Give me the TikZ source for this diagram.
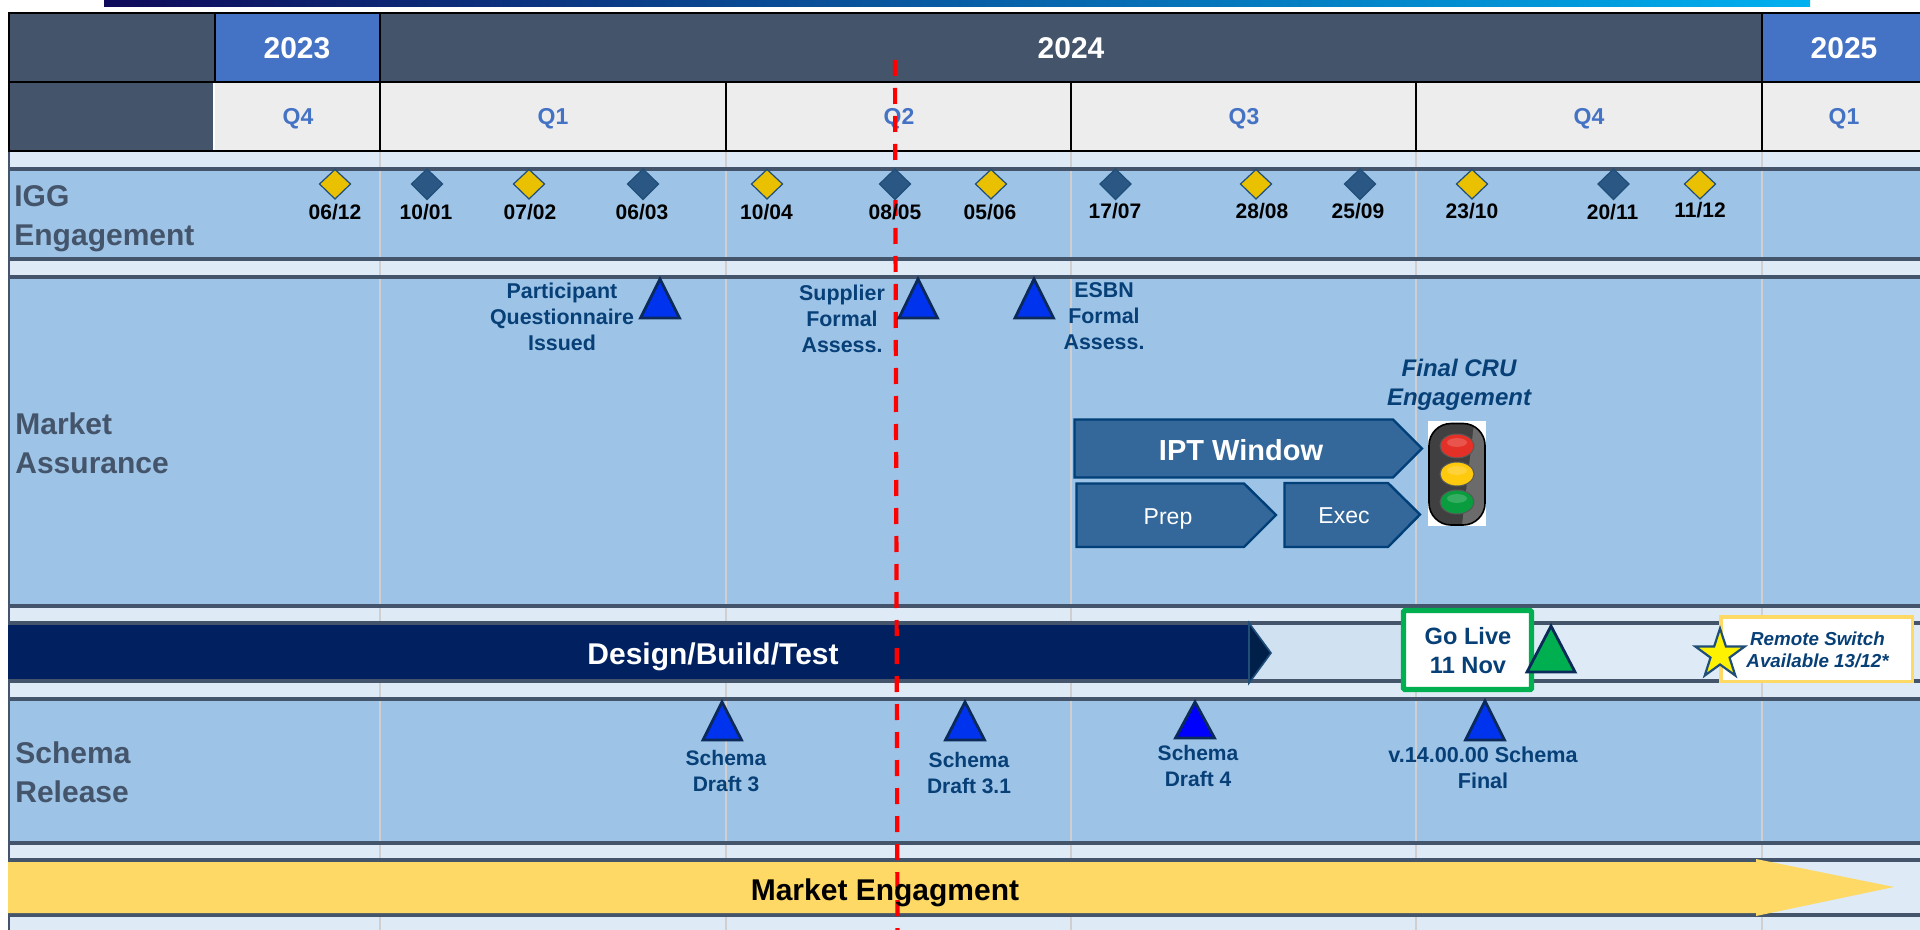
\documentclass[tikz,border=0pt]{standalone}
\usepackage{fontspec}
\setmainfont{Liberation Sans}
\usetikzlibrary{shapes.geometric}
\definecolor{slate}{HTML}{44546A}
\definecolor{yearblue}{HTML}{4472C4}
\definecolor{cellgrey}{HTML}{EDEDED}
\definecolor{band}{HTML}{9DC3E6}
\definecolor{pale}{HTML}{DEEBF7}
\definecolor{paler}{HTML}{D0E1F2}
\definecolor{rule}{HTML}{D0CECE}
\definecolor{navyink}{HTML}{073F77}
\definecolor{triedge}{HTML}{0B2A5A}
\definecolor{triblue}{HTML}{0033EE}
\definecolor{chevfill}{HTML}{34679A}
\definecolor{chevedge}{HTML}{003F77}
\definecolor{dyellow}{HTML}{EAC100}
\definecolor{dblue}{HTML}{2A5783}
\definecolor{dedge}{HTML}{1F4E79}
\definecolor{gold}{HTML}{FFD966}
\definecolor{navybar}{HTML}{002060}
\definecolor{arrowdark}{HTML}{00204A}
\definecolor{golive}{HTML}{00B050}
\definecolor{lampred}{HTML}{E53027}
\definecolor{lampyellow}{HTML}{FFC90E}
\definecolor{lampgreen}{HTML}{0A9D3F}
\definecolor{gradA}{RGB}{15,10,90}
\definecolor{gradB}{RGB}{12,60,140}
\definecolor{gradC}{RGB}{0,176,240}
\begin{document}
\begin{tikzpicture}[x=0.5pt,y=-0.5pt,
  txt/.style 2 args={inner sep=0pt,align=center,font=\fontsize{#1}{#2}\selectfont\bfseries},
  yeartxt/.style={txt={15}{18},text=white},
  qtxt/.style={txt={11.5}{14},text=yearblue},
  rowtxt/.style={txt={15}{19.5},text=slate,align=left,anchor=west},
  datetxt/.style={txt={10.5}{13},text=black},
  mstxt/.style={txt={10.7}{13},text=navyink},
  schtxt/.style={txt={10.5}{13},text=navyink},
  barline/.style={fill=slate,draw=none},
  diay/.style={fill=dyellow,draw=dedge,line width=0.6pt},
  diab/.style={fill=dblue,draw=dedge,line width=0.6pt},
  tri/.style={fill=triblue,draw=triedge,line width=1.4pt,line join=miter},
  chev/.style={fill=chevfill,draw=chevedge,line width=1.2pt},
  hline/.style={black,line width=1.1pt}]
\useasboundingbox (0,0) rectangle (1920,930);
\fill[white] (0,0) rectangle (1920,930);
% top gradient bar
\shade[left color=gradA,middle color=gradB,right color=gradC,shading angle=90] (104,0) rectangle (1810,7);
% page background
\fill[pale] (8,152) rectangle (1920,930);
% bands
\fill[band] (8,169) rectangle (1920,259);
\fill[band] (8,277) rectangle (1920,606);
\fill[band] (8,699) rectangle (1920,843);
\fill[paler] (8,623) rectangle (1420,681);
% quarter rules
\foreach \x in {380,726,1071,1416,1762} \draw[rule,line width=0.8pt] (\x,152) -- (\x,930);
% band rules
\foreach \a/\b in {167/171,257/261,275/279,604/608,621/625,679/683,697/701,841/845,858/862,913/917}
  \fill[barline] (8,\a) rectangle (1920,\b);
\draw[slate,line width=1pt] (9,152) -- (9,930);
% header
\fill[slate] (8,13) rectangle (1920,82);
\fill[slate] (8,82) rectangle (215,151);
\fill[yearblue] (215,13) rectangle (380,82);
\fill[yearblue] (1762,13) rectangle (1920,82);
\fill[cellgrey] (215,82) rectangle (1920,151);
\draw[white,line width=0.6pt] (214,82) -- (214,151);
\draw[hline] (8,13) -- (1920,13);
\draw[hline] (8,82) -- (1920,82);
\draw[hline] (8,151) -- (1920,151);
\draw[hline] (9,13) -- (9,151);
\draw[hline] (215,13) -- (215,82);
\foreach \x in {380,1762} \draw[hline] (\x,13) -- (\x,151);
\foreach \x in {726,1071,1416} \draw[hline] (\x,82) -- (\x,151);
\node[yeartxt] (y23) at (297,48.5) {2023};
\node[yeartxt] (y24) at (1071,48.5) {2024};
\node[yeartxt] (y25) at (1844,48.5) {2025};
\node[qtxt] (q1) at (298,118.5) {Q4};
\node[qtxt] (q2) at (553,118.5) {Q1};
\node[qtxt] (q3) at (899,118.5) {Q2};
\node[qtxt] (q4) at (1244,118.5) {Q3};
\node[qtxt] (q5) at (1589,118.5) {Q4};
\node[qtxt] (q6) at (1844,118.5) {Q1};
% bars
\fill[navybar] (8,625) rectangle (1249,679);
\draw[fill=arrowdark,draw=dedge,line width=0.8pt] (1249,623) -- (1271,653) -- (1249,683) -- cycle;
\fill[gold] (8,862) -- (1756,862) -- (1756,859) -- (1894,887) -- (1756,916) -- (1756,913) -- (8,913) -- cycle;
% chevrons
\draw[chev] (1074.5,419.5) -- (1393,419.5) -- (1422,448.5) -- (1393,477.5) -- (1074.5,477.5) -- cycle;
\draw[chev] (1076.5,483.5) -- (1244,483.5) -- (1276,515) -- (1244,547) -- (1076.5,547) -- cycle;
\draw[chev] (1284.5,483) -- (1388,483) -- (1420,514.5) -- (1388,547) -- (1284.5,547) -- cycle;
% traffic light
\fill[white] (1428,421) rectangle (1486,526);
\begin{scope}
  \clip[rounded corners=11pt] (1429,423.5) rectangle (1485,525);
  \fill[black!75] (1429,423.5) rectangle (1485,525);
  \fill[black!58] (1474,423.5) -- (1485,423.5) -- (1485,525) -- (1462,525) -- cycle;
\end{scope}
\draw[draw=black,line width=0.8pt,rounded corners=11pt] (1429,423.5) rectangle (1485,525);
\foreach \yy/\cc in {446/lampred,474/lampyellow,502/lampgreen}{
  \draw[fill=\cc,draw=black!65,line width=0.5pt] (1457,\yy) ellipse [x radius=8.5pt,y radius=6pt];
  \fill[white,opacity=.18] (1457,\yy-3.5) ellipse [x radius=5pt,y radius=2.2pt];
}
% go live / remote
\draw[fill=white,draw=golive,line width=2.6pt,rounded corners=0.6pt] (1403.5,610.5) rectangle (1531.5,689.5);
\draw[tri,fill=golive] (1551,626) -- (1575,672) -- (1527,672) -- cycle;
\draw[fill=white,draw=gold,line width=1.7pt] (1721,617) rectangle (1912.5,681.5);
% red today line
\draw[red,line width=2.1pt,dash pattern=on 8pt off 6pt] (895,60) -- (897.5,930);
% milestones, row 1
\foreach \x in {335,529,767,991,1256,1472,1700}
  \draw[diay] (\x-15.5,184) -- (\x,169.5) -- (\x+15.5,184) -- (\x,199) -- cycle;
\foreach \x in {427,643,895,1115.5,1360,1613.5}
  \draw[diab] (\x-15.5,184) -- (\x,169) -- (\x+15.5,184) -- (\x,199.5) -- cycle;
\node[datetxt] (d1) at (335,212) {06/12};
\node[datetxt] (d2) at (426,212) {10/01};
\node[datetxt] (d3) at (530,212) {07/02};
\node[datetxt] (d4) at (642,212) {06/03};
\node[datetxt] (d5) at (766.5,212) {10/04};
\node[datetxt] (d6) at (895,212) {08/05};
\node[datetxt] (d7) at (990,212) {05/06};
\node[datetxt] (d8) at (1115,211) {17/07};
\node[datetxt] (d9) at (1262,211) {28/08};
\node[datetxt] (d10) at (1358,211) {25/09};
\node[datetxt] (d11) at (1472,211.5) {23/10};
\node[datetxt] (d12) at (1612.5,212) {20/11};
\node[datetxt] (d13) at (1700,210) {11/12};
% row headings
\node[rowtxt] (r1) at (14,219) {IGG\\Engagement};
\node[rowtxt] (r2) at (15,443.5) {Market\\Assurance};
\node[rowtxt] (r3) at (15,772.5) {Schema\\Release};
% triangles
\draw[tri] (660,279) -- (679.5,318) -- (640.5,318) -- cycle;
\draw[tri] (918,279) -- (937.5,318) -- (899,318) -- cycle;
\draw[tri] (1034,279) -- (1053.5,318) -- (1015,318) -- cycle;
\draw[tri] (722,702) -- (741.5,740) -- (703,740) -- cycle;
\draw[tri] (965,702) -- (984.5,740) -- (945.5,740) -- cycle;
\draw[tri,fill=blue] (1195,702) -- (1214.5,738) -- (1175.5,738) -- cycle;
\draw[tri] (1485,701) -- (1504.5,740) -- (1465.5,740) -- cycle;
% market assurance labels
\node[mstxt] (m1) at (562,317) {Participant\\Questionnaire\\Issued};
\node[mstxt] (m2) at (842,318.5) {Supplier\\Formal\\Assess.};
\node[mstxt] (m3) at (1104,316.5) {ESBN\\Formal\\Assess.};
\node[txt={12}{14.5},text=navyink,font=\fontsize{12}{14.5}\selectfont\bfseries\itshape] (m4) at (1459,385) {Final CRU\\Engagement};
\node[txt={14.5}{17},text=white] (w1) at (1241,450) {IPT Window};
\node[inner sep=0pt,font=\fontsize{11.5}{14}\selectfont,text=white] (w2) at (1168,519) {Prep};
\node[inner sep=0pt,font=\fontsize{11.5}{14}\selectfont,text=white] (w3) at (1344,516) {Exec};
% bar labels
\node[txt={15}{18},text=white] (b1) at (713,656.5) {Design/Build/Test};
\node[txt={11.8}{14.5},text=navyink] (g1) at (1468,651) {Go Live\\11 Nov};
\node[star,star points=5,star point ratio=2.6,minimum size=26pt,inner sep=0pt,fill=yellow,draw=dedge,line width=1.1pt] (s1) at (1720,654.5) {};
\node[txt={9.4}{11},text=navyink,font=\fontsize{9.4}{11}\selectfont\bfseries\itshape] (g2) at (1817.5,650) {Remote Switch\\Available 13/12*};
\node[txt={15}{18},text=black] (b2) at (885,892.5) {Market Engagment};
% schema labels
\node[schtxt] (c1) at (726,771) {Schema\\Draft 3};
\node[schtxt] (c2) at (969,773) {Schema\\Draft 3.1};
\node[schtxt] (c3) at (1198,766) {Schema\\Draft 4};
\node[txt={10.8}{13},text=navyink] (c4) at (1483,768) {v.14.00.00 Schema\\Final};
\end{tikzpicture}
\end{document}
